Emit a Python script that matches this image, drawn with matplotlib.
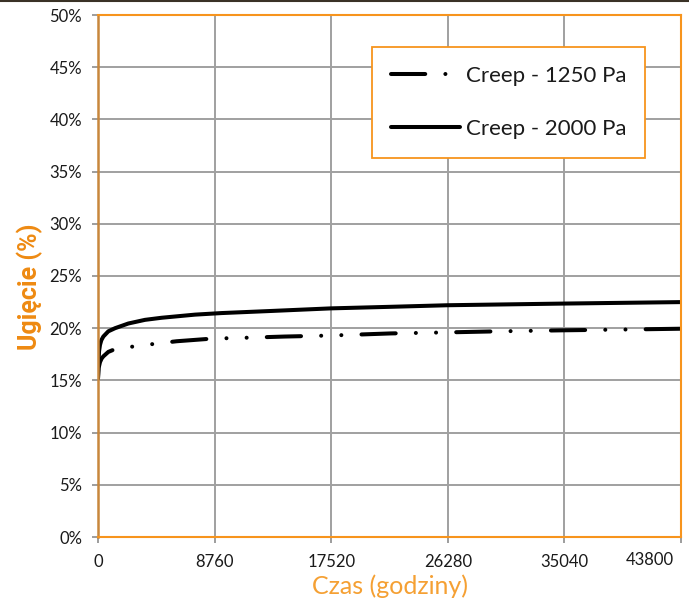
import matplotlib
matplotlib.use("Agg")
import matplotlib.pyplot as plt
from matplotlib.lines import Line2D
from matplotlib.transforms import ScaledTranslation

plt.rcParams['font.family'] = ['Lato', 'DejaVu Sans']

# ---- data ----
t_1250 = [0, 50, 150, 275, 400, 775, 1400, 2900, 4410, 5910, 8540, 11500,
          14000, 17520, 22000, 26280, 30000, 35040, 40000, 43800]
y_1250 = [15.2, 16.2, 16.75, 17.1, 17.3, 17.73, 18.06, 18.28, 18.53, 18.75, 19.0, 19.1,
          19.2, 19.3, 19.5, 19.6, 19.7, 19.8, 19.88, 19.95]

t_2000 = [0, 30, 80, 150, 250, 400, 775, 1280, 2280, 3530, 4780, 7290, 9290,
          13000, 17520, 22000, 26280, 35040, 43800]
y_2000 = [15.2, 16.6, 17.8, 18.4, 18.85, 19.2, 19.7, 20.0, 20.45, 20.8, 21.0, 21.3, 21.45,
          21.65, 21.9, 22.05, 22.2, 22.36, 22.5]

labels = ["Creep - 1250 Pa", "Creep - 2000 Pa"]
x_ticks = [0, 8760, 17520, 26280, 35040, 43800]
y_ticks = [0, 5, 10, 15, 20, 25, 30, 35, 40, 45, 50]

ORANGE = "#F7941D"
ORANGE_DARK = "#C8873C"
LABEL_ORANGE = "#F5A033"
YLAB_ORANGE = "#EE8A12"
GRID = "#A0A0A0"

fig = plt.figure(figsize=(6.89, 6.05), dpi=100)
ax = fig.add_axes([98/689, 1-537/605, (681-98)/689, (537-15)/605])

lw = 2.9
l1, = ax.plot(t_1250, y_1250, color="black", lw=lw, solid_capstyle="round",
              dash_capstyle="round", solid_joinstyle="round", label=labels[0])
l1.set_dashes([8.5, 5, 0.01, 5, 0.01, 5])
l2, = ax.plot(t_2000, y_2000, color="black", lw=lw, solid_capstyle="round",
              solid_joinstyle="round", label=labels[1])

ax.set_xlim(0, 43800)
ax.set_ylim(0, 50)
ax.set_xticks(x_ticks)
ax.set_xticklabels([str(v) for v in x_ticks])
ax.set_yticks(y_ticks)
ax.set_yticklabels([f"{v}%" for v in y_ticks])
ax.grid(True, color=GRID, lw=1.4)
ax.set_axisbelow(True)

for s in ["top", "right"]:
    ax.spines[s].set_color(ORANGE)
    ax.spines[s].set_linewidth(1.5)
ax.spines["left"].set_color(ORANGE_DARK)
ax.spines["left"].set_linewidth(1.8)
ax.spines["bottom"].set_color(ORANGE)
ax.spines["bottom"].set_linewidth(1.5)

ax.tick_params(axis="both", direction="out", length=4.5, width=1.2, color="#8C8C8C",
               labelcolor="#1A1A1A", labelsize=12)
ax.tick_params(axis="y", pad=7)
ax.tick_params(axis="x", pad=8)

# last x label shifted left like the reference
last = ax.get_xticklabels()[-1]
last.set_transform(last.get_transform() + ScaledTranslation(-31/100, 2/100, fig.dpi_scale_trans))

ax.set_xlabel("Czas (godziny)", color=LABEL_ORANGE, fontsize=18, labelpad=3)
ax.set_ylabel("Ugięcie (%)", color=YLAB_ORANGE, fontsize=18, fontweight="bold",
              family=["Roboto", "DejaVu Sans"])
ax.yaxis.set_label_coords((43-98)/583, (537-287)/522)

leg = ax.legend(loc="upper left", bbox_to_anchor=((372-98)/583, (537-47)/522),
                borderaxespad=0, fontsize=16, frameon=True, fancybox=False,
                handlelength=3.1, handletextpad=0.27, labelspacing=1.5, borderpad=0.85)
leg.get_frame().set_edgecolor(ORANGE)
leg.get_frame().set_linewidth(1.3)
leg.get_frame().set_facecolor("white")
leg.get_frame().set_alpha(1)
for txt in leg.get_texts():
    txt.set_color("#1A1A1A")

fig.add_artist(Line2D([0, 1], [0.999, 0.999], transform=fig.transFigure,
                      color="#3A3226", lw=1.5))

fig.savefig("out.png", dpi=100)
